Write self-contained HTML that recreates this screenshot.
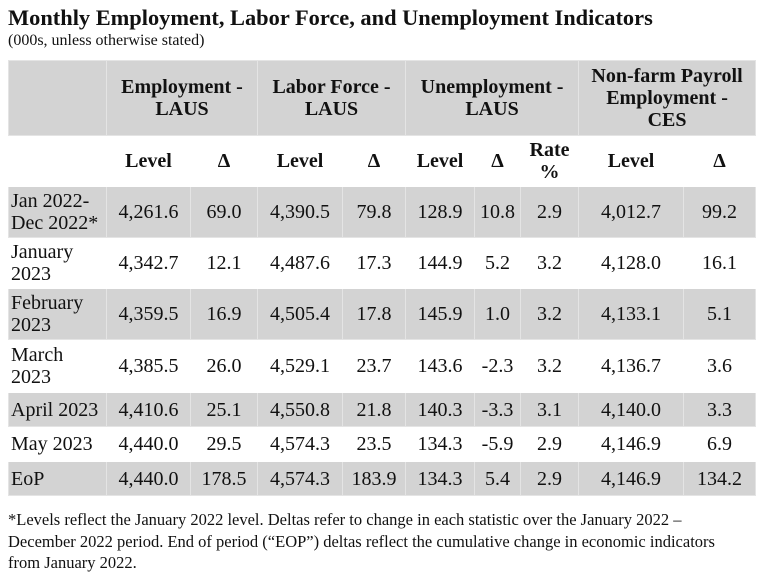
<!DOCTYPE html>
<html><head><meta charset="utf-8"><style>
body{margin:0;width:767px;height:575px;background:#fff;font-family:"Liberation Serif","Times New Roman",Times,serif;color:#111;position:relative;overflow:hidden}
.t{position:absolute;left:8px;top:5px;font-size:22.4px;font-weight:bold}
.s{position:absolute;left:8px;top:32px;font-size:16px}
table{position:absolute;left:8px;top:60px;border-collapse:collapse;table-layout:fixed;width:747px}
td{font-size:20px;text-align:center;padding:0 2px;border:1px solid #e4e4e4;line-height:22px;vertical-align:middle}
tr.g td{background:#d3d3d3}
tr.w td{border-color:#fff}
td.l{text-align:left;padding-left:2px}
.h td{font-weight:bold}
.f{position:absolute;left:8px;top:509px;font-size:16.5px;line-height:21.5px;width:760px}
</style></head><body>
<div class="t">Monthly Employment, Labor Force, and Unemployment Indicators</div>
<div class="s">(000s, unless otherwise stated)</div>
<table>
<colgroup><col style="width:98px"><col style="width:84px"><col style="width:67px"><col style="width:85px"><col style="width:63px"><col style="width:69px"><col style="width:46px"><col style="width:58px"><col style="width:105px"><col style="width:72px"></colgroup>
<tr class="g h" style="height:75px"><td></td><td colspan="2">Employment -<br>LAUS</td><td colspan="2">Labor Force -<br>LAUS</td><td colspan="3">Unemployment -<br>LAUS</td><td colspan="2">Non-farm Payroll<br>Employment -<br>CES</td></tr>
<tr class="w h" style="height:51px"><td></td><td>Level</td><td>Δ</td><td>Level</td><td>Δ</td><td>Level</td><td>Δ</td><td>Rate<br>%</td><td>Level</td><td>Δ</td></tr>
<tr class="g" style="height:51px"><td class="l">Jan 2022-<br>Dec 2022*</td><td>4,261.6</td><td>69.0</td><td>4,390.5</td><td>79.8</td><td>128.9</td><td>10.8</td><td>2.9</td><td>4,012.7</td><td>99.2</td></tr>
<tr class="w" style="height:51px"><td class="l">January<br>2023</td><td>4,342.7</td><td>12.1</td><td>4,487.6</td><td>17.3</td><td>144.9</td><td>5.2</td><td>3.2</td><td>4,128.0</td><td>16.1</td></tr>
<tr class="g" style="height:51px"><td class="l">February<br>2023</td><td>4,359.5</td><td>16.9</td><td>4,505.4</td><td>17.8</td><td>145.9</td><td>1.0</td><td>3.2</td><td>4,133.1</td><td>5.1</td></tr>
<tr class="w" style="height:53px"><td class="l">March<br>2023</td><td>4,385.5</td><td>26.0</td><td>4,529.1</td><td>23.7</td><td>143.6</td><td>-2.3</td><td>3.2</td><td>4,136.7</td><td>3.6</td></tr>
<tr class="g" style="height:34px"><td class="l">April 2023</td><td>4,410.6</td><td>25.1</td><td>4,550.8</td><td>21.8</td><td>140.3</td><td>-3.3</td><td>3.1</td><td>4,140.0</td><td>3.3</td></tr>
<tr class="w" style="height:35px"><td class="l">May 2023</td><td>4,440.0</td><td>29.5</td><td>4,574.3</td><td>23.5</td><td>134.3</td><td>-5.9</td><td>2.9</td><td>4,146.9</td><td>6.9</td></tr>
<tr class="g" style="height:34px"><td class="l">EoP</td><td>4,440.0</td><td>178.5</td><td>4,574.3</td><td>183.9</td><td>134.3</td><td>5.4</td><td>2.9</td><td>4,146.9</td><td>134.2</td></tr>
</table>
<div class="f">*Levels reflect the January 2022 level. Deltas refer to change in each statistic over the January 2022 –<br>December 2022 period. End of period (“EOP”) deltas reflect the cumulative change in economic indicators<br>from January 2022.</div>
</body></html>
